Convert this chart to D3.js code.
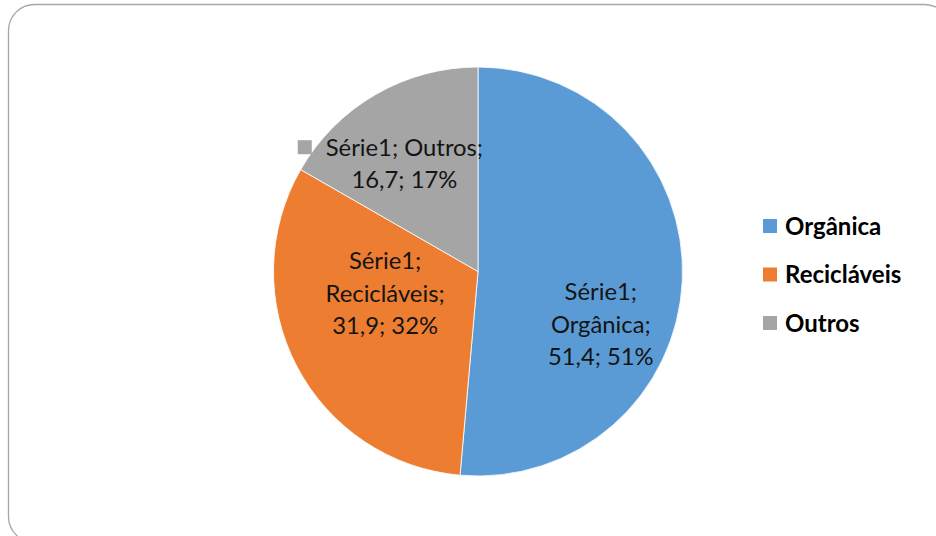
<!DOCTYPE html>
<html>
<head>
<meta charset="utf-8">
<script src="https://cdn.jsdelivr.net/npm/d3@7"></script>
<style>
  html, body { margin: 0; padding: 0; background: #ffffff; }
  svg { display: block; }
</style>
</head>
<body>
<svg id="chart" width="936" height="536"></svg>
<script>
// Composição dos resíduos (Série1)
const seriesName = "Série1";
const categories = ["Orgânica", "Recicláveis", "Outros"];
const values = [51.4, 31.9, 16.7];
const colors = ["#5B9BD5", "#ED7D31", "#A5A5A5"];

const W = 936, H = 536;
const svg = d3.select("#chart");
const font = "Lato, 'Liberation Sans', sans-serif";

// frame with rounded corners
svg.append("rect")
  .attr("x", 8.5).attr("y", 4.5)
  .attr("width", 942).attr("height", 538)
  .attr("rx", 26).attr("ry", 26)
  .attr("fill", "#ffffff")
  .attr("stroke", "#a6a6a6")
  .attr("stroke-width", 1.3);

const cx = 478, cy = 271.5, R = 204.5;
const g = svg.append("g").attr("transform", `translate(${cx},${cy})`);

const total = d3.sum(values);
const pie = d3.pie().sort(null).value(d => d.value);
const data = pie(categories.map((c, i) => ({ name: c, value: values[i], color: colors[i] })));

const arc = d3.arc().innerRadius(0).outerRadius(R);
g.selectAll("path.slice")
  .data(data)
  .join("path")
  .attr("class", "slice")
  .attr("d", arc)
  .attr("fill", d => d.data.color)
  .attr("stroke", "#ffffff")
  .attr("stroke-width", 0.8);

// data labels: series; category; value; percent
const fmt = v => String(v).replace(".", ",");
const pctText = d => fmt(d.data.value) + "; " + Math.round(d.data.value / total * 100) + "%";
const labelArc = d3.arc().innerRadius(R * 0.65).outerRadius(R * 0.65);
const labelShift = [[-10, 47], [25, -40], [-7, 7]];
const labelLines = [
  d => [seriesName + ";", d.data.name + ";", pctText(d)],
  d => [seriesName + ";", d.data.name + ";", pctText(d)],
  d => [seriesName + "; " + d.data.name + ";", pctText(d)]
];
const lineH = 32.5;

data.forEach((d, i) => {
  const [x0, y0] = labelArc.centroid(d);
  const x = x0 + labelShift[i][0], y = y0 + labelShift[i][1];
  const lines = labelLines[i](d);
  const lg = g.append("g").attr("transform", `translate(${x},${y})`);
  const t = lg.append("text")
    .attr("text-anchor", "middle")
    .attr("font-family", font)
    .attr("font-size", 23.8)
    .attr("fill", "#141414");
  lines.forEach((ln, k) => {
    t.append("tspan")
      .attr("x", 0)
      .attr("y", (k - (lines.length - 1) / 2) * lineH)
      .attr("dy", "0.36em")
      .text(ln);
  });
  if (i === 2) {
    // legend key inside the label
    const w = t.select("tspan").node().getComputedTextLength();
    lg.append("rect")
      .attr("x", -w / 2 - 28).attr("y", -lineH / 2 - 7)
      .attr("width", 14).attr("height", 14)
      .attr("fill", d.data.color);
  }
});

// legend
const legend = svg.append("g").attr("transform", "translate(763,226)");
const item = legend.selectAll("g")
  .data(categories)
  .join("g")
  .attr("transform", (d, i) => `translate(0,${i * 48.5})`);
item.append("rect")
  .attr("x", 0).attr("y", -7)
  .attr("width", 14).attr("height", 14)
  .attr("fill", (d, i) => colors[i]);
item.append("text")
  .attr("x", 22).attr("y", 0)
  .attr("dy", "0.36em")
  .attr("font-family", font)
  .attr("font-weight", "bold")
  .attr("font-size", 24)
  .attr("fill", "#000000")
  .text(d => d);
</script>
</body>
</html>
